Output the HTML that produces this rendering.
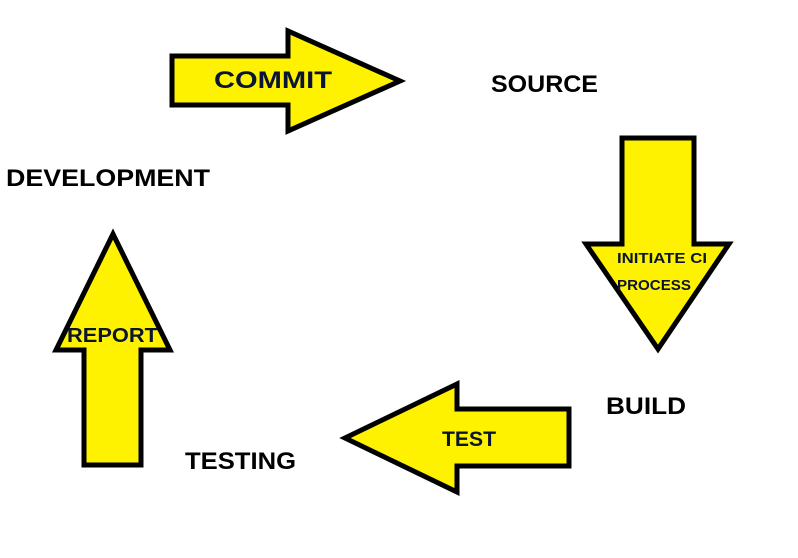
<html><body style="margin:0;width:798px;height:558px;background:#fff;position:relative;overflow:hidden;font-family:'Liberation Sans',sans-serif;font-weight:bold">
<svg width="798" height="558" style="position:absolute;left:0;top:0">
<g fill="#fff200" stroke="#000" stroke-width="5" stroke-linejoin="miter">
<polygon points="172,56 288,56 288,31 400,81 288,131 288,105 172,105"/>
<polygon points="622,138 694,138 694,244 729,244 658,349 586,244 622,244"/>
<polygon points="569,409 457,409 457,384 345,438 457,492 457,466 569,466"/>
<polygon points="84,465 141,465 141,350 170,350 113,234 56,350 84,350"/>
</g>
<g fill="#0a1433" font-family="Liberation Sans, sans-serif" font-weight="bold" lengthAdjust="spacingAndGlyphs">
<text x="214" y="88" font-size="24" textLength="118" lengthAdjust="spacingAndGlyphs">COMMIT</text>
<text x="617" y="263" font-size="15" textLength="90" lengthAdjust="spacingAndGlyphs">INITIATE CI</text>
<text x="617" y="290" font-size="15" textLength="74" lengthAdjust="spacingAndGlyphs">PROCESS</text>
<text x="442" y="446" font-size="21" textLength="54" lengthAdjust="spacingAndGlyphs">TEST</text>
<text x="67" y="342" font-size="20" textLength="91" lengthAdjust="spacingAndGlyphs">REPORT</text>
</g>
<g fill="#000" font-size="24" font-family="Liberation Sans, sans-serif" font-weight="bold">
<text x="491" y="92" textLength="107" lengthAdjust="spacingAndGlyphs">SOURCE</text>
<text x="6" y="186" textLength="204" lengthAdjust="spacingAndGlyphs">DEVELOPMENT</text>
<text x="606" y="414" textLength="80" lengthAdjust="spacingAndGlyphs">BUILD</text>
<text x="185" y="469" textLength="111" lengthAdjust="spacingAndGlyphs">TESTING</text>
</g>
</svg>
</body></html>
